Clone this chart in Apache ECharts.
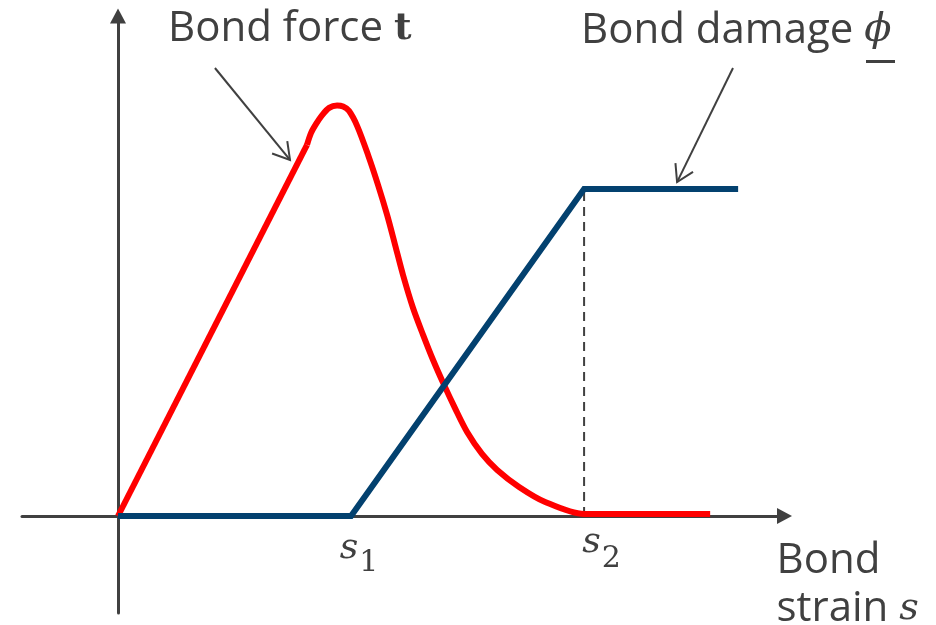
<!DOCTYPE html>
<html>
<head>
<meta charset="utf-8">
<title>Bond force and bond damage versus bond strain</title>
<script src="https://cdn.jsdelivr.net/npm/echarts@6.0.0/dist/echarts.min.js"></script>
<style>
  html, body { margin: 0; padding: 0; background: #ffffff; }
  #chart { width: 936px; height: 625px; }
</style>
</head>
<body>
<div id="chart"></div>
<script>
// Characteristic strains marked on the horizontal axis
const strainTicks = [1, 2];
const tickSubscripts = ['1', '2'];

// Bond force t: linear loading up to the kink, a rounded peak, then softening to zero at s2
const forceStrain = [0, 0.811, 0.828, 0.850, 0.876, 0.906, 0.940, 0.966, 0.991, 1.026, 1.073,
                     1.116, 1.155, 1.189, 1.223, 1.266, 1.309, 1.352, 1.399, 1.446, 1.498,
                     1.562, 1.627, 1.721, 1.833, 2.0, 2.541];
const forceValue  = [0, 1.135, 1.171, 1.199, 1.226, 1.248, 1.255, 1.252, 1.239, 1.193, 1.104,
                     1.012, 0.920, 0.829, 0.737, 0.636, 0.554, 0.477, 0.401, 0.330, 0.257,
                     0.190, 0.141, 0.089, 0.043, 0.006, 0.006];

// Bond damage phi: zero up to s1, grows linearly, fully damaged beyond s2
const damageStrain = [0, 1, 2, 2.661];
const damageValue  = [0, 0, 1, 1];

// Dashed guide from s2 up to full damage
const guideStrain = [2, 2];
const guideValue  = [0, 1];

// Annotation arrows: [tail strain, tail value, tip strain, tip value]
const forceArrow  = [0.416, 1.370, 0.738, 1.089];
const damageArrow = [2.639, 1.370, 2.399, 1.021];

const INK = '#404040';
const RED = '#ff0000';
const BLUE = '#03416f';
const SANS = '"Open Sans", "Noto Sans", sans-serif';
const SERIF = '"DejaVu Serif", serif';

const zip = (xs, ys) => xs.map((x, i) => [x, ys[i]]);
const forcePoints = zip(forceStrain, forceValue);

const chart = echarts.init(document.getElementById('chart'), null, { renderer: 'canvas' });

const option = {
  animation: false,
  backgroundColor: '#ffffff',
  grid: { left: 22, right: 151.5, top: 16, bottom: 12, containLabel: false, outerBoundsMode: 'none' },
  xAxis: {
    type: 'value',
    min: -0.412,
    max: 2.860,
    offset: -97,
    splitLine: { show: false },
    axisTick: { show: false },
    axisLine: {
      onZero: false,
      symbol: ['none', 'triangle'],
      symbolSize: [16, 15],
      lineStyle: { color: INK, width: 3 }
    },
    axisLabel: {
      customValues: strainTicks,
      margin: 8,
      formatter: function (v) {
        const i = strainTicks.indexOf(v);
        const k = i === 0 ? 'a' : 'b';
        return '{s' + k + '|s}{n' + k + '|' + tickSubscripts[i] + '}';
      },
      rich: {
        sa: { fontFamily: SERIF, fontStyle: 'italic', fontSize: 36, color: INK, verticalAlign: 'top', padding: [7, 0, 0, 16] },
        na: { fontFamily: SERIF, fontSize: 30, color: INK, verticalAlign: 'top', padding: [24, 0, 0, 1] },
        sb: { fontFamily: SERIF, fontStyle: 'italic', fontSize: 36, color: INK, verticalAlign: 'top', padding: [1, 0, 0, 35] },
        nb: { fontFamily: SERIF, fontSize: 30, color: INK, verticalAlign: 'top', padding: [20, 0, 0, 1] }
      }
    },
    name: '{n|Bond}\n{n|strain }{v|s}',
    nameLocation: 'end',
    nameGap: -8,
    nameTextStyle: {
      align: 'left',
      verticalAlign: 'top',
      padding: [21, 0, 0, 0],
      rich: {
        n: { fontFamily: SANS, fontSize: 42, color: INK, lineHeight: 48 },
        v: { fontFamily: SERIF, fontStyle: 'italic', fontSize: 38, color: INK, lineHeight: 48 }
      }
    }
  },
  yAxis: {
    type: 'value',
    min: -0.2966,
    max: 1.529,
    splitLine: { show: false },
    axisTick: { show: false },
    axisLabel: { show: false },
    axisLine: {
      onZero: true,
      symbol: ['none', 'triangle'],
      symbolSize: [16, 15],
      lineStyle: { color: INK, width: 3 }
    }
  },
  series: [
    {
      name: 'guide',
      type: 'line',
      data: zip(guideStrain, guideValue),
      showSymbol: false,
      silent: true,
      lineStyle: { color: INK, width: 2, type: [9, 6] },
      z: 1
    },
    {
      name: 'Bond damage',
      type: 'line',
      data: zip(damageStrain, damageValue),
      showSymbol: false,
      lineStyle: { color: BLUE, width: 6, cap: 'butt', join: 'miter' },
      z: 3
    },
    {
      // straight loading branch
      name: 'Bond force',
      type: 'line',
      data: forcePoints.slice(0, 2),
      showSymbol: false,
      lineStyle: { color: RED, width: 6, cap: 'butt' },
      z: 2
    },
    {
      // peak and softening branch
      name: 'Bond force',
      type: 'line',
      data: forcePoints.slice(1),
      showSymbol: false,
      smooth: 0.3,
      lineStyle: { color: RED, width: 6, cap: 'butt' },
      z: 2
    }
  ]
};

chart.setOption(option);

// Arrow with an open head, drawn from tail to tip in axis coordinates
function arrowGraphic(spec) {
  const tail = chart.convertToPixel({ xAxisIndex: 0, yAxisIndex: 0 }, [spec[0], spec[1]]);
  const tip = chart.convertToPixel({ xAxisIndex: 0, yAxisIndex: 0 }, [spec[2], spec[3]]);
  const ang = Math.atan2(tail[1] - tip[1], tail[0] - tip[0]);
  const len = 19, spread = 31 * Math.PI / 180;
  const h1 = [tip[0] + len * Math.cos(ang + spread), tip[1] + len * Math.sin(ang + spread)];
  const h2 = [tip[0] + len * Math.cos(ang - spread), tip[1] + len * Math.sin(ang - spread)];
  const stroke = { stroke: INK, lineWidth: 2, fill: null };
  return [
    { type: 'polyline', shape: { points: [tail, tip] }, style: stroke, silent: true },
    { type: 'polyline', shape: { points: [h1, tip, h2] }, style: stroke, silent: true }
  ];
}

chart.setOption({
  graphic: [
    ...arrowGraphic(forceArrow),
    ...arrowGraphic(damageArrow),
    {
      type: 'text',
      left: 168,
      top: 8,
      silent: true,
      style: {
        text: '{a|Bond force }{b|t}',
        rich: {
          a: { fontFamily: SANS, fontSize: 42, fill: INK },
          b: { fontFamily: SERIF, fontWeight: 'bold', fontSize: 38, fill: INK }
        }
      }
    },
    {
      type: 'text',
      left: 581,
      top: 10,
      silent: true,
      style: {
        text: '{a|Bond damage }{b|\u03D5}',
        rich: {
          a: { fontFamily: SANS, fontSize: 42, fill: INK },
          b: { fontFamily: SERIF, fontStyle: 'italic', fontSize: 40, fill: INK }
        }
      }
    },
    {
      type: 'line',
      silent: true,
      shape: { x1: 866, y1: 61.5, x2: 895, y2: 61.5 },
      style: { stroke: INK, lineWidth: 3 }
    }
  ]
});
</script>
</body>
</html>
